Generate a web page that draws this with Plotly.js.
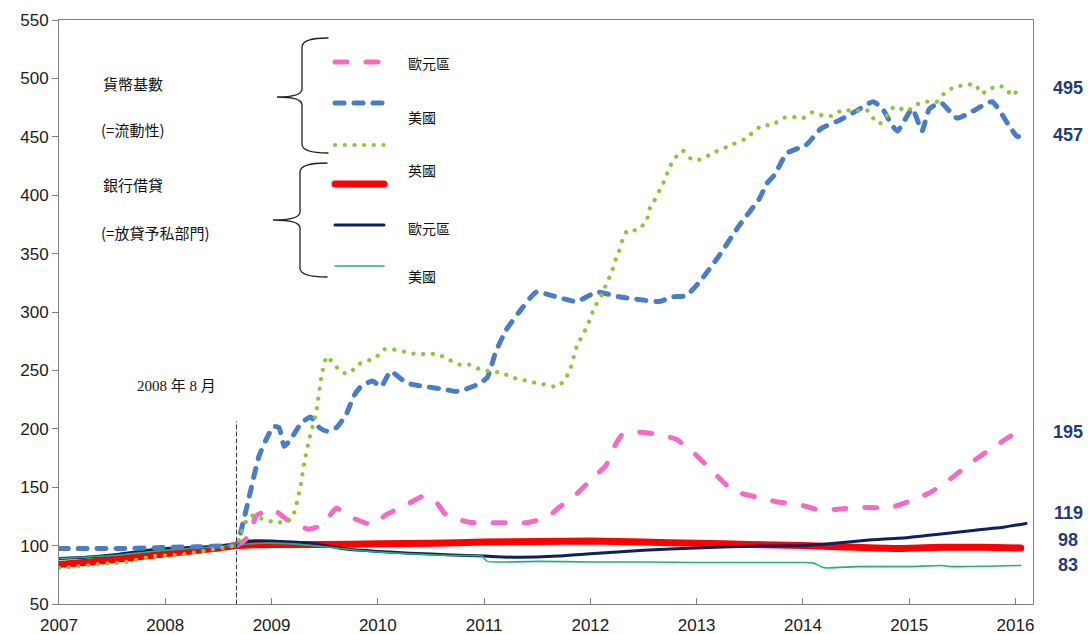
<!DOCTYPE html>
<html>
<head>
<meta charset="utf-8">
<script src="https://cdn.plot.ly/plotly-3.0.1.min.js"></script>
<style>
html,body{margin:0;padding:0;background:#fff;}
#chart{width:1088px;height:634px;}
.scatterlayer .js-line{stroke-linecap:round;stroke-linejoin:round;}
.shapelayer path{stroke-linecap:round;}
</style>
</head>
<body>
<div id="chart"></div>
<script>
// ---------------- DATA (index, Aug 2008 = 100) ----------------
// Monetary base – Euro area
const euBaseX = [2008.67, 2008.74, 2008.81, 2008.85, 2009.01, 2009.15, 2009.35, 2009.48, 2009.61, 2009.73, 2009.95, 2010.08, 2010.27, 2010.42, 2010.55, 2010.64, 2010.86, 2011.02, 2011.21, 2011.40, 2011.59, 2011.71, 2011.88, 2011.99, 2012.15, 2012.21, 2012.30, 2012.46, 2012.65, 2012.81, 2012.99, 2013.09, 2013.28, 2013.37, 2013.59, 2013.75, 2013.97, 2014.13, 2014.32, 2014.47, 2014.69, 2014.84, 2015.03, 2015.19, 2015.38, 2015.47, 2015.66, 2015.79, 2015.95, 2016.04];
const euBaseY = [100, 104, 111, 125, 131, 122, 114, 118, 132, 125, 118, 126.5, 135, 142, 137, 126.5, 120, 119.6, 119.6, 119.6, 124, 133, 145, 155, 169, 182, 195, 197, 195, 191, 178, 169, 152, 146, 141, 137.6, 135, 131, 131, 132.5, 132.5, 133, 139, 145, 156.5, 163, 176, 184, 193.5, 197];

// Monetary base – United States
const usBaseX = [2007.0, 2007.3, 2007.6, 2008.0, 2008.3, 2008.6, 2008.67, 2008.70, 2008.79, 2008.88, 2008.95, 2009.02, 2009.07, 2009.12, 2009.18, 2009.28, 2009.37, 2009.45, 2009.52, 2009.61, 2009.70, 2009.78, 2009.84, 2009.95, 2010.03, 2010.12, 2010.23, 2010.32, 2010.46, 2010.61, 2010.74, 2010.83, 2010.94, 2011.03, 2011.11, 2011.21, 2011.33, 2011.49, 2011.64, 2011.87, 2012.06, 2012.27, 2012.43, 2012.65, 2012.77, 2012.90, 2013.03, 2013.21, 2013.40, 2013.59, 2013.66, 2013.73, 2013.85, 2014.03, 2014.17, 2014.34, 2014.50, 2014.66, 2014.75, 2014.83, 2014.89, 2015.03, 2015.12, 2015.19, 2015.30, 2015.45, 2015.60, 2015.78, 2015.93, 2016.02, 2016.09];
const usBaseY = [97.5, 97.5, 97.5, 98.5, 99, 100, 101, 108, 142, 176, 191, 202, 201, 185, 191, 205, 210, 201, 198, 201, 212, 229, 236, 241, 236, 249, 242, 238, 236, 234, 232, 234, 238, 244, 266, 285, 300, 317, 314, 309, 317, 313, 311, 309, 313, 314, 326, 348, 374, 397, 410, 417, 436, 443, 457, 464, 472, 480, 474, 461, 455, 474, 455, 474, 479, 466, 472, 480, 461, 450, 455];

// Monetary base – United Kingdom
const ukBaseX = [2007.0, 2007.15, 2007.36, 2007.5, 2007.63, 2007.9, 2008.13, 2008.4, 2008.67, 2008.72, 2008.78, 2008.84, 2008.93, 2009.05, 2009.14, 2009.2, 2009.27, 2009.31, 2009.36, 2009.42, 2009.47, 2009.52, 2009.59, 2009.67, 2009.74, 2009.81, 2009.9, 2009.98, 2010.06, 2010.14, 2010.25, 2010.36, 2010.46, 2010.56, 2010.65, 2010.77, 2010.86, 2010.96, 2011.07, 2011.17, 2011.26, 2011.36, 2011.45, 2011.56, 2011.69, 2011.76, 2011.81, 2011.87, 2011.97, 2012.04, 2012.11, 2012.15, 2012.2, 2012.23, 2012.27, 2012.3, 2012.35, 2012.44, 2012.53, 2012.55, 2012.6, 2012.65, 2012.7, 2012.74, 2012.79, 2012.87, 2012.96, 2013.05, 2013.15, 2013.3, 2013.45, 2013.62, 2013.71, 2013.81, 2013.9, 2014.0, 2014.09, 2014.19, 2014.28, 2014.37, 2014.49, 2014.6, 2014.66, 2014.72, 2014.79, 2014.86, 2014.98, 2015.05, 2015.15, 2015.26, 2015.33, 2015.43, 2015.52, 2015.62, 2015.68, 2015.76, 2015.85, 2015.93, 2015.97, 2016.05];
const ukBaseY = [81, 82, 84, 85, 86, 91, 92, 96, 101, 112, 124, 126, 122, 120, 120, 125, 150, 172, 193, 214, 245, 262, 255, 248, 248, 255, 258, 261, 268, 268, 266, 264, 264, 264, 260, 255, 255, 251, 249, 248, 244, 242, 240, 238, 236, 242, 251, 270, 288, 304, 315, 324, 334, 343, 352, 361, 370, 370, 378, 387, 395, 404, 413, 423, 431, 438, 430, 431, 436, 442, 448, 460, 460, 466, 467, 466, 471, 468, 468, 473, 472, 473, 466, 461, 468, 476, 472, 477, 480, 480, 487, 493, 494, 495, 487, 491, 494, 489, 485, 494];

// Bank lending – United Kingdom
const ukLendX = [2007.0, 2007.3, 2007.6, 2007.9, 2008.2, 2008.5, 2008.67, 2009.0, 2009.5, 2010.0, 2010.5, 2011.0, 2011.5, 2012.0, 2012.5, 2013.0, 2013.5, 2014.0, 2014.5, 2014.9, 2015.3, 2015.7, 2016.05];
const ukLendY = [84, 86, 89, 92, 95, 98, 100, 101, 101, 101.5, 102, 103, 103.5, 104, 103, 102, 101, 100, 98.5, 97.5, 98.5, 98.5, 98];

// Bank lending – Euro area
const euLendX = [2007.0, 2007.25, 2007.5, 2007.75, 2008.0, 2008.3, 2008.67, 2008.8, 2009.0, 2009.2, 2009.4, 2009.7, 2010.0, 2010.3, 2010.7, 2011.0, 2011.3, 2011.7, 2012.0, 2012.5, 2013.0, 2013.5, 2014.0, 2014.3, 2014.6, 2015.0, 2015.3, 2015.6, 2015.9, 2016.1];
const euLendY = [89, 90, 92, 95, 97.5, 98.5, 101, 104, 104, 103, 101.5, 97, 95, 93.5, 92, 91, 90, 91, 93, 96, 98, 99.5, 100, 102, 104.5, 107, 110, 113, 116, 119];

// Bank lending – United States
const usLendX = [2007.0, 2007.5, 2008.0, 2008.5, 2008.67, 2008.9, 2009.2, 2009.5, 2009.8, 2010.0, 2010.3, 2010.7, 2010.98, 2011.03, 2011.5, 2012.0, 2012.5, 2013.0, 2013.5, 2014.0, 2014.1, 2014.2, 2014.5, 2015.0, 2015.3, 2015.4, 2016.05];
const usLendY = [89, 91.5, 96, 99, 100.5, 102, 101.5, 99, 96, 94.5, 93, 91.5, 91, 86.5, 86.5, 86, 86, 85.5, 85.5, 85.5, 85, 81, 82, 82, 83, 82, 83];

// Axis ticks
const xTickVals = [2007, 2008, 2009, 2010, 2011, 2012, 2013, 2014, 2015, 2016];
const xTickText = ['2007', '2008', '2009', '2010', '2011', '2012', '2013', '2014', '2015', '2016'];
const yTickVals = [50, 100, 150, 200, 250, 300, 350, 400, 450, 500, 550];

// Event marker (Aug 2008)
const markerDate = 2008.67;
const markerTop = 206;
const markerText = '2008 年 8 月';

// End-of-series labels
const endLabels = ['495', '457', '195', '119', '98', '83'];

// Legend texts
const groupBase = '貨幣基數';
const groupBaseNote = '(=流動性)';
const groupLend = '銀行借貸';
const groupLendNote = '(=放貸予私部門)';
const legendLabels = ['歐元區', '美國', '英國', '歐元區', '美國'];

// ---------------- STYLE ----------------
const C = {
  pink: '#f46bc4', blue: '#4a7cc7', lime: '#8dc540',
  red: '#ff0000', navy: '#0e2060', green: '#21b46f'
};
const seriesStyle = [
  {color: C.red, width: 7, dash: 'solid'},
  {color: C.navy, width: 3, dash: 'solid'},
  {color: C.green, width: 1.6, dash: 'solid'},
  {color: C.pink, width: 5, dash: '12px,19px'},
  {color: C.blue, width: 5, dash: '9px,10px'},
  {color: C.lime, width: 4.2, dash: '0.1px,9.6px'}
];

// plot area in pixels
const PL = 59, PR = 1033, PT = 20, PB = 604;
const px = x => (x - PL) / (PR - PL);
const py = y => (PB - y) / (PB - PT);

const traces = [
  {x: ukLendX, y: ukLendY, name: '銀行借貸 英國'},
  {x: euLendX, y: euLendY, name: '銀行借貸 歐元區'},
  {x: usLendX, y: usLendY, name: '銀行借貸 美國'},
  {x: euBaseX, y: euBaseY, name: '貨幣基數 歐元區'},
  {x: usBaseX, y: usBaseY, name: '貨幣基數 美國'},
  {x: ukBaseX, y: ukBaseY, name: '貨幣基數 英國'}
].map((t, i) => Object.assign(t, {
  type: 'scatter', mode: 'lines', showlegend: false, hoverinfo: 'skip',
  line: {color: seriesStyle[i].color, width: seriesStyle[i].width, dash: seriesStyle[i].dash, shape: 'spline', smoothing: 0.5}
}));

// brace path in paper coords
function brace(xEnd, xBar, xTip, yTop, yMid, yBot) {
  const P = (x, y) => px(x).toFixed(5) + ',' + py(y).toFixed(5);
  return 'M' + P(xEnd, yTop) +
    ' Q' + P(xBar, yTop) + ' ' + P(xBar, yTop + 9) +
    ' L' + P(xBar, yMid - 8) +
    ' Q' + P(xBar, yMid) + ' ' + P(xTip, yMid) +
    ' Q' + P(xBar, yMid) + ' ' + P(xBar, yMid + 8) +
    ' L' + P(xBar, yBot - 9) +
    ' Q' + P(xBar, yBot) + ' ' + P(xEnd, yBot);
}

const shapes = [
  {type: 'line', xref: 'x', yref: 'y', x0: markerDate, x1: markerDate, y0: 50, y1: markerTop,
   line: {color: '#333', width: 1, dash: '4px,3px'}},
  {type: 'path', xref: 'paper', yref: 'paper', path: brace(328, 302, 277, 38, 97, 153), line: {color: '#222', width: 1.3}},
  {type: 'path', xref: 'paper', yref: 'paper', path: brace(327, 300, 273, 163, 220, 277), line: {color: '#222', width: 1.3}}
];
// legend sample lines (order: pink, blue, lime, red, navy, green)
const legendOrder = [3, 4, 5, 0, 1, 2];
const legendY = [62, 103, 145, 184, 225, 266];
legendOrder.forEach((si, k) => {
  const s = seriesStyle[si];
  shapes.push({type: 'line', xref: 'paper', yref: 'paper', x0: px(335), x1: px(384), y0: py(legendY[k]), y1: py(legendY[k]),
    line: {color: s.color, width: s.width, dash: s.dash}});
});

const cjk = '"Noto Sans CJK TC", "Noto Sans CJK SC", sans-serif';
const annotations = [];
const addText = (text, x, y, opts) => annotations.push(Object.assign({
  text: text, xref: 'paper', yref: 'paper', x: px(x), y: py(y), xanchor: 'left', yanchor: 'middle',
  showarrow: false, font: {family: cjk, size: 14, color: '#111'}
}, opts || {}));

const groupFont = {family: cjk, size: 15, color: '#111'};
addText(groupBase, 101, 83, {font: groupFont});
addText(groupBaseNote, 99, 129, {font: groupFont});
addText(groupLend, 101, 185, {font: groupFont});
addText(groupLendNote, 99, 232, {font: groupFont});
const legendLabelY = [63, 117, 170, 228, 276];
legendLabels.forEach((t, k) => addText(t, 406, legendLabelY[k]));
addText(markerText, 176, 386, {xanchor: 'center', font: {family: '"Liberation Serif", ' + cjk, size: 15, color: '#111'}});

const endLabelY = [88, 135, 432, 513, 540, 565];
endLabels.forEach((t, k) => addText(t, 1068, endLabelY[k], {
  xanchor: 'center', font: {family: '"Liberation Sans", Arial, sans-serif', size: 18, color: '#1f3d73', weight: 'bold'}
}));

const layout = {
  width: 1088, height: 634,
  margin: {l: PL, r: 1088 - PR, t: PT, b: 634 - PB},
  paper_bgcolor: '#fff', plot_bgcolor: '#fff',
  showlegend: false, hovermode: false,
  font: {family: '"Liberation Sans", Arial, sans-serif', size: 17, color: '#1a1a1a'},
  xaxis: {
    range: [2007, 2016.165], tickmode: 'array', tickvals: xTickVals, ticktext: xTickText,
    showgrid: false, zeroline: false, showline: true, linecolor: '#808080', linewidth: 1, mirror: true,
    ticks: 'inside', ticklen: 6, tickcolor: '#808080', ticklabelstandoff: 6,
    tickfont: {size: 17, color: '#1a1a1a'}
  },
  yaxis: {
    range: [50, 550], tickmode: 'array', tickvals: yTickVals,
    showgrid: false, zeroline: false, showline: true, linecolor: '#808080', linewidth: 1, mirror: true,
    ticks: 'outside', ticklen: 6, tickcolor: '#808080',
    tickfont: {size: 17, color: '#1a1a1a'}
  },
  shapes: shapes,
  annotations: annotations
};

Plotly.newPlot('chart', traces, layout, {displayModeBar: false, staticPlot: true});
</script>
</body>
</html>
